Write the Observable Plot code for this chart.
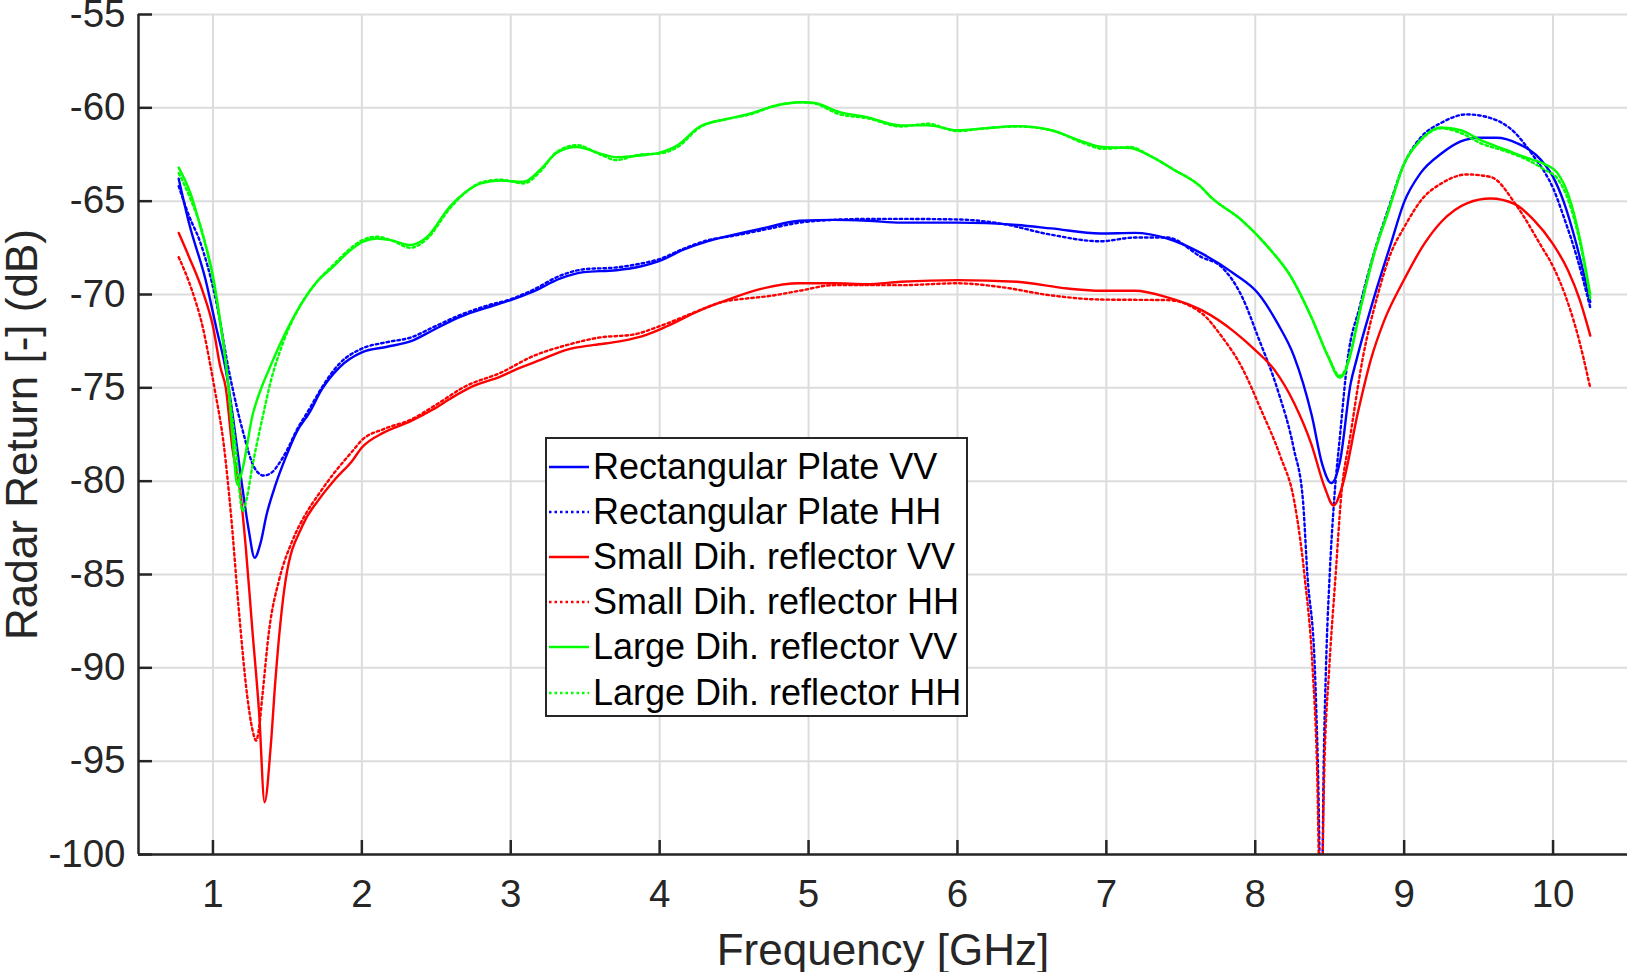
<!DOCTYPE html>
<html>
<head>
<meta charset="utf-8">
<script src="https://cdn.jsdelivr.net/npm/d3@7"></script>
<script src="https://cdn.jsdelivr.net/npm/@observablehq/plot@0.6"></script>
<style>
html, body { margin: 0; padding: 0; background: #fff; }
#wrap { position: relative; width: 1632px; height: 972px; font-family: "Liberation Sans", Arial, Helvetica, sans-serif; }
#legend { position: absolute; left: 545px; top: 437px; width: 423px; height: 280px; box-sizing: border-box; border: 2.5px solid #262626; background: #fff; }
#legend .row { position: absolute; left: 0; height: 45.2px; display: flex; align-items: center; }
#legend .row svg { margin-left: 2px; width: 40px; height: 10px; }
#legend .row span { margin-left: 4px; font-size: 36px; color: #000; white-space: nowrap; }
</style>
</head>
<body>
<div id="wrap"></div>
<script>
// ---- axes ----
const xDomain = [0.5, 10.5];
const yDomain = [-100, -55];
const xTicks = [1, 2, 3, 4, 5, 6, 7, 8, 9, 10];
const yTicks = [-100, -95, -90, -85, -80, -75, -70, -65, -60, -55];
const xLabel = "Frequency [GHz]";
const yLabel = "Radar Return [-] (dB)";

// ---- series ----
const seriesNames = [
  "Rectangular Plate VV", "Rectangular Plate HH",
  "Small Dih. reflector VV", "Small Dih. reflector HH",
  "Large Dih. reflector VV", "Large Dih. reflector HH"
];
const seriesColors = ["#0000ff", "#0000ff", "#ff0000", "#ff0000", "#00ff00", "#00ff00"];
const seriesDash = [null, "2.5,3", null, "2.5,3", null, "2.5,3"];

// [frequency GHz, radar return dB]
const rectVV = [[0.77,-63.8],[0.84,-66.2],[0.95,-69.2],[1.02,-71.7],[1.09,-74.2],[1.14,-76.9],[1.19,-79.9],[1.24,-82.6],[1.28,-84.1],[1.32,-83.3],[1.36,-81.8],[1.42,-80.2],[1.49,-78.7],[1.56,-77.4],[1.65,-76.3],[1.73,-75.1],[1.85,-73.9],[2.0,-73.1],[2.17,-72.8],[2.33,-72.5],[2.48,-71.9],[2.66,-71.2],[2.84,-70.7],[3.0,-70.3],[3.15,-69.85],[3.33,-69.15],[3.49,-68.8],[3.71,-68.7],[3.87,-68.5],[4.0,-68.2],[4.16,-67.6],[4.32,-67.15],[4.5,-66.8],[4.72,-66.4],[4.94,-66.05],[5.17,-66.0],[5.4,-66.05],[5.62,-66.15],[6.0,-66.15],[6.4,-66.28],[6.63,-66.46],[6.96,-66.73],[7.19,-66.7],[7.41,-67.0],[7.64,-67.8],[7.86,-68.9],[8.02,-69.95],[8.15,-71.55],[8.26,-73.3],[8.38,-76.5],[8.45,-79.1],[8.51,-80.1],[8.57,-78.9],[8.64,-74.8],[8.68,-73.5],[8.8,-70.1],[8.91,-67.3],[9.0,-65.05],[9.11,-63.5],[9.25,-62.45],[9.38,-61.8],[9.5,-61.6],[9.62,-61.6],[9.76,-61.9],[9.92,-62.8],[10.0,-63.7],[10.07,-65.0],[10.16,-67.4],[10.25,-70.4]];
const rectHH = [[0.77,-64.2],[0.84,-65.8],[0.91,-67.1],[1.02,-70.3],[1.11,-74.2],[1.2,-77.3],[1.28,-79.3],[1.34,-79.7],[1.4,-79.5],[1.44,-79.1],[1.5,-78.3],[1.56,-77.3],[1.65,-76.1],[1.73,-75.0],[1.85,-73.7],[2.0,-72.9],[2.17,-72.55],[2.33,-72.3],[2.48,-71.75],[2.66,-71.1],[2.84,-70.6],[3.0,-70.25],[3.15,-69.75],[3.33,-69.0],[3.49,-68.65],[3.71,-68.55],[3.87,-68.35],[4.0,-68.1],[4.16,-67.55],[4.32,-67.1],[4.5,-66.85],[4.72,-66.5],[4.94,-66.15],[5.17,-66.0],[5.4,-65.95],[5.62,-65.95],[6.0,-65.98],[6.29,-66.2],[6.63,-66.8],[6.96,-67.15],[7.19,-66.95],[7.41,-66.95],[7.64,-68.0],[7.77,-68.5],[7.91,-70.1],[8.02,-72.3],[8.15,-75.1],[8.26,-78.3],[8.32,-81.0],[8.35,-85.0],[8.4,-90.0],[8.42,-95.0],[8.445,-104],[8.46,-95.0],[8.475,-90.0],[8.5,-85.0],[8.53,-81.0],[8.57,-77.5],[8.62,-73.5],[8.7,-70.7],[8.8,-67.7],[8.89,-65.5],[9.0,-63.0],[9.11,-61.6],[9.25,-60.8],[9.42,-60.35],[9.56,-60.5],[9.74,-61.3],[9.87,-62.6],[9.94,-63.4],[10.0,-64.3],[10.07,-65.8],[10.16,-68.0],[10.25,-70.7]];
const smallVV = [[0.77,-66.7],[0.84,-68.0],[0.93,-69.8],[1.0,-71.7],[1.05,-73.9],[1.086,-75.0],[1.13,-78.2],[1.187,-80.8],[1.22,-83.5],[1.265,-88.0],[1.31,-92.4],[1.347,-97.2],[1.388,-94.2],[1.42,-90.6],[1.488,-85.3],[1.6,-82.4],[1.71,-81.0],[1.82,-79.9],[1.936,-78.9],[2.0,-78.2],[2.146,-77.4],[2.325,-76.8],[2.48,-76.15],[2.59,-75.6],[2.75,-74.9],[2.93,-74.4],[3.04,-74.0],[3.2,-73.5],[3.38,-72.95],[3.56,-72.7],[3.74,-72.5],[3.915,-72.15],[4.05,-71.7],[4.27,-70.85],[4.45,-70.3],[4.68,-69.7],[4.94,-69.4],[5.17,-69.4],[5.39,-69.45],[5.62,-69.32],[6.0,-69.23],[6.4,-69.32],[6.74,-69.68],[6.96,-69.8],[7.19,-69.8],[7.41,-70.15],[7.64,-70.84],[7.86,-72.0],[8.0,-72.98],[8.13,-74.05],[8.26,-75.8],[8.376,-78.0],[8.465,-80.3],[8.526,-81.3],[8.59,-80.1],[8.69,-76.3],[8.776,-73.5],[8.866,-71.4],[9.0,-69.2],[9.134,-67.3],[9.25,-66.1],[9.425,-65.1],[9.58,-64.86],[9.74,-65.15],[9.87,-66.0],[10.0,-67.3],[10.1,-68.7],[10.18,-70.3],[10.25,-72.2]];
const smallHH = [[0.77,-68.0],[0.86,-69.8],[0.93,-71.7],[0.985,-73.9],[1.01,-75.0],[1.075,-78.2],[1.12,-81.7],[1.176,-87.1],[1.23,-91.5],[1.265,-93.3],[1.29,-93.9],[1.31,-93.2],[1.332,-91.5],[1.377,-88.0],[1.444,-85.3],[1.533,-83.2],[1.62,-81.8],[1.71,-80.7],[1.82,-79.5],[1.936,-78.4],[2.0,-77.8],[2.15,-77.2],[2.33,-76.7],[2.48,-76.0],[2.7,-74.9],[2.93,-74.2],[3.15,-73.3],[3.38,-72.7],[3.6,-72.3],[3.82,-72.15],[4.0,-71.7],[4.22,-71.0],[4.42,-70.4],[4.6,-70.2],[4.72,-70.1],[4.94,-69.8],[5.17,-69.5],[5.62,-69.5],[6.0,-69.4],[6.29,-69.6],[6.63,-70.05],[6.96,-70.27],[7.41,-70.3],[7.64,-71.0],[7.77,-72.2],[7.91,-73.9],[8.04,-76.2],[8.17,-78.7],[8.26,-81.0],[8.33,-85.0],[8.385,-90.0],[8.414,-95.0],[8.44,-104],[8.465,-95.0],[8.497,-90.0],[8.54,-85.0],[8.575,-81.0],[8.64,-77.5],[8.72,-73.5],[8.82,-70.1],[8.91,-67.8],[9.0,-66.4],[9.13,-64.8],[9.25,-64.05],[9.42,-63.57],[9.58,-63.7],[9.76,-65.3],[9.92,-67.4],[10.0,-68.5],[10.08,-70.0],[10.16,-72.0],[10.25,-75.0]];
const largeVV = [[0.77,-63.2],[0.85,-64.6],[0.92,-66.5],[1.0,-69.0],[1.05,-71.5],[1.1,-74.6],[1.13,-77.5],[1.164,-80.2],[1.2,-79.3],[1.265,-76.5],[1.33,-74.9],[1.377,-74.0],[1.466,-72.4],[1.586,-70.6],[1.7,-69.3],[1.81,-68.5],[1.913,-67.7],[2.0,-67.2],[2.1,-67.0],[2.2,-67.1],[2.325,-67.35],[2.44,-66.9],[2.59,-65.3],[2.7,-64.5],[2.8,-64.05],[2.93,-63.9],[3.086,-63.96],[3.2,-63.3],[3.31,-62.4],[3.445,-62.1],[3.6,-62.45],[3.71,-62.65],[3.87,-62.55],[4.0,-62.4],[4.12,-62.0],[4.27,-61.0],[4.45,-60.6],[4.61,-60.3],[4.77,-59.9],[4.95,-59.7],[5.03,-59.73],[5.21,-60.23],[5.39,-60.5],[5.62,-60.94],[5.8,-60.94],[6.0,-61.2],[6.18,-61.1],[6.4,-60.98],[6.63,-61.2],[6.85,-61.83],[6.98,-62.1],[7.16,-62.15],[7.3,-62.6],[7.45,-63.3],[7.63,-64.2],[7.7,-64.77],[7.906,-66.0],[8.085,-67.45],[8.24,-69.05],[8.376,-71.2],[8.49,-73.34],[8.566,-74.45],[8.6,-74.2],[8.63,-73.5],[8.71,-70.66],[8.8,-67.8],[8.89,-65.66],[9.0,-63.0],[9.11,-61.73],[9.25,-61.05],[9.38,-61.2],[9.515,-61.73],[9.69,-62.27],[9.83,-62.7],[9.94,-63.0],[10.03,-63.5],[10.1,-64.6],[10.18,-67.0],[10.25,-70.0]];
const largeHH = [[0.77,-63.5],[0.85,-64.9],[0.93,-66.7],[1.0,-69.2],[1.05,-71.6],[1.1,-74.6],[1.15,-78.0],[1.2,-81.6],[1.23,-80.8],[1.265,-79.2],[1.33,-76.7],[1.39,-74.6],[1.47,-72.6],[1.586,-70.6],[1.7,-69.3],[1.81,-68.4],[1.913,-67.6],[2.0,-67.1],[2.1,-66.9],[2.2,-67.1],[2.325,-67.5],[2.44,-67.0],[2.59,-65.4],[2.7,-64.5],[2.8,-64.0],[2.93,-63.85],[3.086,-64.05],[3.2,-63.4],[3.31,-62.35],[3.445,-62.0],[3.6,-62.5],[3.71,-62.8],[3.87,-62.5],[4.0,-62.45],[4.12,-62.1],[4.27,-61.05],[4.45,-60.6],[4.61,-60.35],[4.77,-59.9],[4.95,-59.7],[5.03,-59.75],[5.21,-60.35],[5.39,-60.55],[5.62,-61.0],[5.8,-60.85],[6.0,-61.25],[6.18,-61.1],[6.4,-61.0],[6.63,-61.2],[6.85,-61.9],[6.98,-62.2],[7.16,-62.1],[7.3,-62.6],[7.45,-63.3],[7.63,-64.2],[7.7,-64.77],[7.906,-66.0],[8.085,-67.45],[8.24,-69.05],[8.376,-71.2],[8.49,-73.3],[8.566,-74.35],[8.6,-74.1],[8.63,-73.4],[8.71,-70.6],[8.8,-67.75],[8.89,-65.6],[9.0,-63.0],[9.11,-61.75],[9.25,-61.1],[9.38,-61.35],[9.515,-61.9],[9.69,-62.35],[9.83,-62.8],[9.94,-63.3],[10.03,-63.8],[10.1,-64.9],[10.18,-67.2],[10.25,-70.2]];

const seriesData = [rectVV, rectHH, smallVV, smallHH, largeVV, largeHH];

const axisColor = "#262626";
const gridColor = "#dcdcdc";

// layout
const W = 1632, H = 972;
const mL = 138, mR = 5, mT = 14, mB = 118;
const tickLen = 14;
const frameW = W - mL - mR, frameH = H - mT - mB;

const lineMarks = seriesData.map((d, i) => Plot.line(d, {
  x: p => p[0], y: p => p[1],
  stroke: seriesColors[i], strokeWidth: 2.4,
  strokeDasharray: seriesDash[i] || undefined,
  curve: "monotone-x", clip: true
}));

const plot = Plot.plot({
  width: W, height: H,
  marginLeft: mL, marginRight: mR, marginTop: mT, marginBottom: mB,
  style: { fontFamily: "'Liberation Sans', Arial, Helvetica, sans-serif", background: "white", color: axisColor, overflow: "visible" },
  x: { domain: xDomain },
  y: { domain: yDomain },
  marks: [
    Plot.gridX(xTicks, { stroke: gridColor, strokeOpacity: 1, strokeWidth: 2 }),
    Plot.gridY(yTicks, { stroke: gridColor, strokeOpacity: 1, strokeWidth: 2 }),
    ...lineMarks,
    // inward tick marks
    Plot.ruleX(xTicks, { x: d => d, y1: yDomain[1], y2: yDomain[0], insetTop: frameH - tickLen, stroke: axisColor, strokeWidth: 2.5 }),
    Plot.ruleY(yTicks, { y: d => d, x1: xDomain[0], x2: xDomain[1], insetRight: frameW - tickLen, stroke: axisColor, strokeWidth: 2.5 }),
    // axis spines
    Plot.ruleX([xDomain[0]], { stroke: axisColor, strokeWidth: 2.5 }),
    Plot.ruleY([yDomain[0]], { stroke: axisColor, strokeWidth: 2.5 }),
    Plot.axisX(xTicks, { tickSize: 0, tickPadding: 25, fontSize: 38.5, label: null, fill: axisColor, tickFormat: d => String(d) }),
    Plot.axisY(yTicks, { tickSize: 0, tickPadding: 13, fontSize: 38.5, label: null, fill: axisColor, tickFormat: d => String(d) }),
    Plot.text([xLabel], { text: d => d, frameAnchor: "bottom", dy: 96, lineAnchor: "middle", textAnchor: "middle", fontSize: 44, fill: axisColor }),
    Plot.text([yLabel], { text: d => d, frameAnchor: "left", dx: -116, rotate: -90, lineAnchor: "middle", textAnchor: "middle", fontSize: 44, fill: axisColor })
  ]
});

const wrap = document.getElementById("wrap");
wrap.appendChild(plot);

// legend
const legend = document.createElement("div");
legend.id = "legend";
seriesNames.forEach((name, i) => {
  const row = document.createElement("div");
  row.className = "row";
  row.style.top = (5 + i * 45.2) + "px";
  const dash = seriesDash[i] ? ` stroke-dasharray="${seriesDash[i]}"` : "";
  row.innerHTML = `<svg viewBox="0 0 40 10"><line x1="0" y1="5" x2="40" y2="5" stroke="${seriesColors[i]}" stroke-width="2.4"${dash}/></svg><span>${name}</span>`;
  legend.appendChild(row);
});
wrap.appendChild(legend);
</script>
</body>
</html>
